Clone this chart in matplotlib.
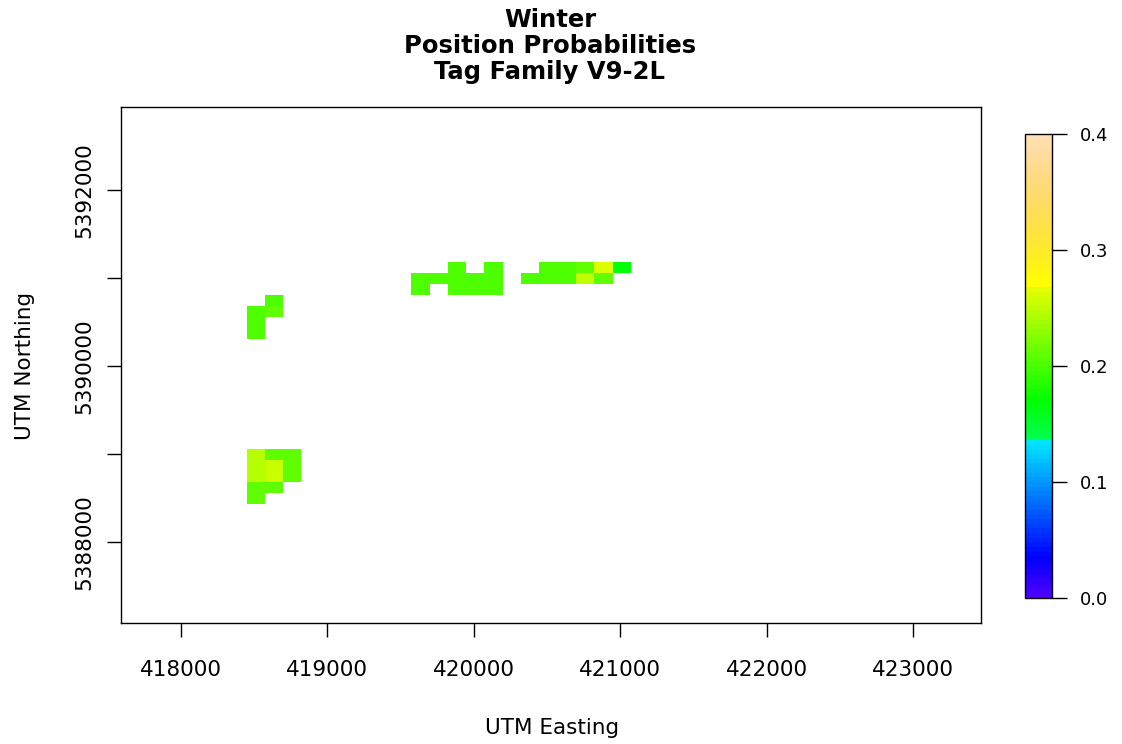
import numpy as np
import matplotlib
matplotlib.use('Agg')
import matplotlib.pyplot as plt
from matplotlib.colors import ListedColormap, hsv_to_rgb

# cell centres (UTM, m) and position probability, 125 m grid
easting = [418635, 418510, 418635, 418510, 418510,
           418510, 418635, 418760,
           418510, 418635, 418760,
           418510, 418635, 418760,
           418510, 418635,
           418510,
           419885, 420135,
           419635, 419760, 419885, 420010, 420135,
           419635, 419885, 420010, 420135,
           420510, 420635, 420760, 420885, 421010,
           420385, 420510, 420635, 420760, 420885]
northing = [5390745, 5390620, 5390620, 5390495, 5390370,
            5388995, 5388995, 5388995,
            5388870, 5388870, 5388870,
            5388745, 5388745, 5388745,
            5388620, 5388620,
            5388495,
            5391120, 5391120,
            5390995, 5390995, 5390995, 5390995, 5390995,
            5390870, 5390870, 5390870, 5390870,
            5391120, 5391120, 5391120, 5391120, 5391120,
            5390995, 5390995, 5390995, 5390995, 5390995]
prob = [0.20, 0.20, 0.21, 0.20, 0.20,
        0.245, 0.21, 0.21,
        0.245, 0.255, 0.21,
        0.245, 0.255, 0.21,
        0.21, 0.21,
        0.21,
        0.20, 0.20,
        0.20, 0.20, 0.20, 0.20, 0.20,
        0.20, 0.20, 0.20, 0.20,
        0.20, 0.20, 0.21, 0.262, 0.165,
        0.20, 0.20, 0.20, 0.25, 0.21]

x_ticks = [418000, 419000, 420000, 421000, 422000, 423000]
y_ticks = [5388000, 5389000, 5390000, 5391000, 5392000]
y_labels = ['5388000', '', '5390000', '', '5392000']
cb_ticks = [0.0, 0.1, 0.2, 0.3, 0.4]
title_lines = ['Winter', 'Position Probabilities', 'Tag Family V9-2L']
cell = 125


# R topo.colors
def topo_colors(n):
    j = n // 3
    k = n // 3
    i = n - j - k
    h = np.concatenate([np.linspace(43/60, 31/60, i),
                        np.linspace(23/60, 11/60, j),
                        np.linspace(10/60, 6/60, k)])
    s = np.concatenate([np.ones(i + j), np.linspace(1, 0.3, k)])
    v = np.ones(n)
    return hsv_to_rgb(np.column_stack([h, s, v]))


cmap = ListedColormap(topo_colors(100))

# grid from the cell centres
ex = np.array(easting)
no = np.array(northing)
xc = np.arange(ex.min(), ex.max() + cell, cell)
yc = np.arange(no.min(), no.max() + cell, cell)
Z = np.full((len(yc), len(xc)), np.nan)
for e, n_, p in zip(ex, no, prob):
    Z[int(round((n_ - yc[0]) / cell)), int(round((e - xc[0]) / cell))] = p
xe = np.append(xc - cell / 2, xc[-1] + cell / 2)
ye = np.append(yc - cell / 2, yc[-1] + cell / 2)

W, H = 1122, 744
fig = plt.figure(figsize=(W / 100, H / 100), dpi=100)
ax = fig.add_axes([121 / W, 1 - 623 / H, (981 - 121) / W, (623 - 107) / H])

mesh = ax.pcolormesh(xe, ye, np.ma.masked_invalid(Z), cmap=cmap, vmin=0, vmax=0.4)

ax.set_xlim(417590, 423464)
ax.set_ylim(5387080, 5392943)
ax.set_xticks(x_ticks, [str(t) for t in x_ticks])
ax.set_yticks(y_ticks, y_labels)
ax.tick_params(direction='out', length=10, width=1, labelsize=15.5)
ax.tick_params(axis='x', pad=17)
ax.tick_params(axis='y', pad=9)
for lab in ax.get_yticklabels():
    lab.set_rotation(90)
    lab.set_va('center')
for sp in ax.spines.values():
    sp.set_linewidth(1)

fig.text(552 / W, 1 - 728 / H, 'UTM Easting', ha='center', va='center', fontsize=15.5)
fig.text(25 / W, 1 - 366 / H, 'UTM Northing', ha='center', va='center',
         rotation=90, fontsize=15.5)
for yy, line in zip([20, 46, 72], title_lines):
    fig.text(550 / W, 1 - yy / H, line, ha='center', va='center',
             fontsize=17.5, fontweight='bold')

cax = fig.add_axes([1025 / W, 1 - 598 / H, 27 / W, (598 - 134) / H])
cb = fig.colorbar(mesh, cax=cax, ticks=cb_ticks)
cb.ax.set_yticklabels(['%.1f' % t for t in cb_ticks])
cb.ax.tick_params(length=11, width=1, labelsize=13, pad=9)
cb.outline.set_linewidth(1)

fig.savefig('out.png', dpi=100)
